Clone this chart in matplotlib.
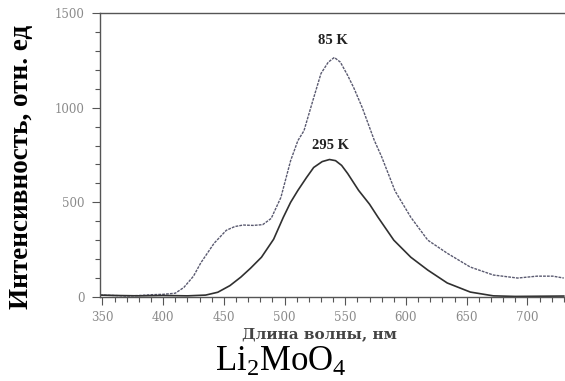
import numpy as np
import matplotlib
matplotlib.use('Agg')
import matplotlib.pyplot as plt
from matplotlib.ticker import MultipleLocator

# Spectrum at 85 K
wl_85 = [348, 360, 370, 380, 390, 400, 410, 417, 425, 431, 442, 452, 459, 466, 474,
         482, 489, 497, 505, 511, 516, 524, 530, 536, 541, 546, 552, 557, 564, 574,
         580, 591, 604, 618, 634, 653, 672, 692, 708, 721, 730]
int_85 = [10, 8, 5, 8, 12, 14, 20, 50, 110, 180, 284, 352, 372, 380, 378,
          382, 415, 526, 720, 826, 878, 1052, 1180, 1240, 1265, 1240, 1170, 1105, 1000, 826,
          740, 560, 421, 300, 231, 158, 116, 100, 110, 110, 100]

# Spectrum at 295 K
wl_295 = [348, 360, 380, 400, 420, 435, 445, 455, 464, 472, 481, 491, 499, 505, 511,
          518, 524, 531, 537, 542, 547, 552, 561, 570, 577, 590, 604, 618, 634, 653,
          672, 690, 710, 730]
int_295 = [10, 8, 6, 8, 6, 10, 25, 60, 105, 152, 210, 305, 421, 500, 563,
           630, 684, 715, 726, 720, 695, 652, 563, 490, 421, 300, 210, 142, 74, 26,
           6, 3, 4, 5]

labels = ['85 K', '295 K']
label_pos = [(540, 1352), (538, 800)]

fig = plt.figure(figsize=(5.65, 3.81), dpi=100)
ax = fig.add_axes([0.177, 0.2205, 0.823, 0.7455])

ax.plot(wl_85, int_85, color='#5a5a70', lw=1.0, linestyle=(0, (2, 0.8)))
ax.plot(wl_295, int_295, color='#303030', lw=1.2)

for txt, (x, y) in zip(labels, label_pos):
    ax.text(x, y, txt, ha='center', va='center', fontsize=10.5,
            fontweight='bold', family='Liberation Serif', color='#222222')

ax.set_xlim(348, 731)
ax.set_ylim(0, 1500)
ax.xaxis.set_major_locator(MultipleLocator(50))
ax.xaxis.set_minor_locator(MultipleLocator(10))
ax.yaxis.set_major_locator(MultipleLocator(500))
ax.yaxis.set_minor_locator(MultipleLocator(100))
ax.tick_params(axis='both', which='major', direction='out', length=6, width=0.8,
               color='#555555', labelcolor='#8a8a8a', labelsize=8.5)
ax.tick_params(axis='both', which='minor', direction='out', length=3.5, width=0.8,
               color='#555555')
ax.tick_params(axis='x', which='major', pad=4)
ax.tick_params(axis='y', which='major', pad=5)
for lab in ax.get_xticklabels() + ax.get_yticklabels():
    lab.set_family('DejaVu Serif')

ax.spines['right'].set_visible(False)
for s in ['left', 'bottom', 'top']:
    ax.spines[s].set_color('#555555')
    ax.spines[s].set_linewidth(1.0)

fig.text(22 / 565, 1 - 167 / 381, 'Интенсивность, отн. ед', rotation=90,
         ha='center', va='center', fontsize=19.5, fontweight='bold',
         family='Liberation Serif')
fig.text(319 / 565, 1 - 334 / 381, 'Длина волны, нм', ha='center', va='center',
         fontsize=11, fontweight='bold', family='DejaVu Serif', color='#444444')
fig.text(281 / 565, 1 - 362 / 381, r'Li$\mathregular{_2}$MoO$\mathregular{_4}$',
         ha='center', va='center', fontsize=25, family='Liberation Serif')

fig.savefig('out.png', dpi=100)
